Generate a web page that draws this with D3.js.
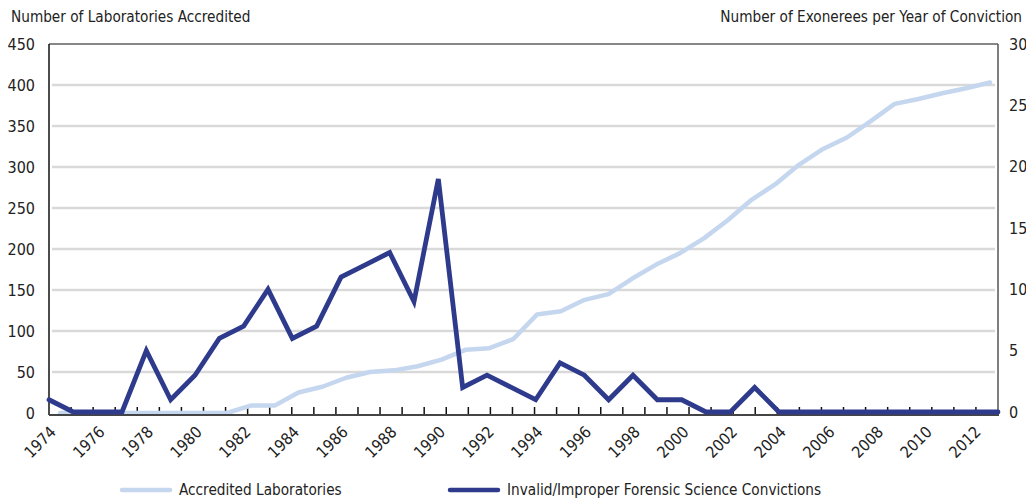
<!DOCTYPE html>
<html>
<head>
<meta charset="utf-8">
<script src="https://cdn.jsdelivr.net/npm/d3@7"></script>
<style>
  body { margin: 0; background: #fff; }
  text { font-family: "Liberation Sans Narrow", "DejaVu Sans Condensed", sans-serif; fill: #222; }
</style>
</head>
<body>
<script>
// years on the x axis
var years = [1974, 1975, 1976, 1977, 1978, 1979, 1980, 1981, 1982, 1983,
             1984, 1985, 1986, 1987, 1988, 1989, 1990, 1991, 1992, 1993,
             1994, 1995, 1996, 1997, 1998, 1999, 2000, 2001, 2002, 2003,
             2004, 2005, 2006, 2007, 2008, 2009, 2010, 2011, 2012, 2013];

// accredited laboratories (left axis)
var labs = [0, 0, 0, 0, 0, 0, 0, 0, 9, 9,
            25, 32, 43, 50, 52, 57, 65, 77, 79, 90,
            120, 124, 138, 145, 164, 181, 195, 213, 235, 260,
            279, 303, 322, 336, 356, 377, 383, 390, 396, 403];

// invalid / improper forensic science convictions (right axis)
var convictions = [1, 0, 0, 0, 5, 1, 3, 6, 7, 10,
                   6, 7, 11, 12, 13, 9, 19, 2, 3, 2,
                   1, 4, 3, 1, 3, 1, 1, 0, 0, 2,
                   0, 0, 0, 0, 0, 0, 0, 0, 0, 0];

var leftTicks = [0, 50, 100, 150, 200, 250, 300, 350, 400, 450];
var rightTicks = [0, 5, 10, 15, 20, 25, 30];
var yearLabels = [1974, 1976, 1978, 1980, 1982, 1984, 1986, 1988, 1990, 1992,
                  1994, 1996, 1998, 2000, 2002, 2004, 2006, 2008, 2010, 2012];

var W = 1026, H = 502;
var plot = { l: 49, r: 998, t: 44, b: 415 };
var lightColor = "#c5d6ef", darkColor = "#2e3a8b";

var svg = d3.select("body").append("svg")
    .attr("width", W)
    .attr("height", H);

// scales
var xDark = d3.scaleLinear().domain([1974, 2013]).range([plot.l, plot.r]);
var xLight = d3.scaleLinear().domain([1974, 2013]).range([60, 990]);
var yLeft = d3.scaleLinear().domain([0, 450]).range([413, plot.t]);
var yRight = d3.scaleLinear().domain([0, 30]).range([412, plot.t]);
var xTick = d3.scaleLinear().domain([0, 43]).range([plot.l, plot.r]);

// gridlines
svg.append("g").selectAll("line")
    .data(leftTicks.filter(function(d) { return d > 0 && d < 450; }))
    .enter().append("line")
    .attr("x1", plot.l + 3).attr("x2", plot.r - 3)
    .attr("y1", function(d) { return yLeft(d); })
    .attr("y2", function(d) { return yLeft(d); })
    .attr("stroke", "#d9d9d9")
    .attr("stroke-width", 2.5);

// frame
svg.append("line").attr("x1", plot.l).attr("x2", plot.r).attr("y1", plot.t).attr("y2", plot.t)
    .attr("stroke", "#111").attr("stroke-width", 1.2);
svg.append("line").attr("x1", plot.l).attr("x2", plot.l).attr("y1", plot.t).attr("y2", plot.b)
    .attr("stroke", "#111").attr("stroke-width", 1.5);
svg.append("line").attr("x1", plot.r).attr("x2", plot.r).attr("y1", plot.t).attr("y2", plot.b)
    .attr("stroke", "#555").attr("stroke-width", 1.5);

// small ticks along the bottom
svg.append("g").selectAll("line")
    .data(d3.range(1, 43))
    .enter().append("line")
    .attr("x1", function(d) { return xTick(d); })
    .attr("x2", function(d) { return xTick(d); })
    .attr("y1", plot.b - 8).attr("y2", plot.b)
    .attr("stroke", "#111").attr("stroke-width", 1.5);

// left axis labels
svg.append("g").selectAll("text")
    .data(leftTicks)
    .enter().append("text")
    .attr("x", 35)
    .attr("y", function(d) { return yLeft(d); })
    .attr("dy", "0.36em")
    .attr("text-anchor", "end")
    .attr("font-size", "16px")
    .text(function(d) { return d; });

// right axis labels
svg.append("g").selectAll("text")
    .data(rightTicks)
    .enter().append("text")
    .attr("x", 1009)
    .attr("y", function(d) { return yRight(d); })
    .attr("dy", "0.36em")
    .attr("font-size", "16px")
    .text(function(d) { return d; });

// year labels
svg.append("g").selectAll("text")
    .data(yearLabels)
    .enter().append("text")
    .attr("text-anchor", "end")
    .attr("font-size", "16px")
    .attr("transform", function(d) {
        return "translate(" + (xDark(d) + 8) + "," + 433 + ") rotate(-45)";
    })
    .text(function(d) { return d; });

// lines
var lightLine = d3.line()
    .x(function(d, i) { return xLight(years[i]); })
    .y(function(d) { return yLeft(d); });
var darkLine = d3.line()
    .x(function(d, i) { return xDark(years[i]); })
    .y(function(d) { return yRight(d); });

svg.append("path")
    .attr("d", lightLine(labs))
    .attr("fill", "none")
    .attr("stroke", lightColor)
    .attr("stroke-width", 4.5)
    .attr("stroke-linejoin", "round")
    .attr("stroke-linecap", "round");

// bottom axis line
svg.append("line").attr("x1", plot.l).attr("x2", plot.r + 1).attr("y1", plot.b).attr("y2", plot.b)
    .attr("stroke", "#444").attr("stroke-width", 2);

svg.append("path")
    .attr("d", darkLine(convictions))
    .attr("fill", "none")
    .attr("stroke", darkColor)
    .attr("stroke-width", 4.8)
    .attr("stroke-linejoin", "miter")
    .attr("stroke-linecap", "round");

// axis titles
svg.append("text")
    .attr("x", 11).attr("y", 22)
    .attr("font-size", "15.2px")
    .text("Number of Laboratories Accredited");
svg.append("text")
    .attr("x", 1022).attr("y", 22)
    .attr("text-anchor", "end")
    .attr("font-size", "15.2px")
    .text("Number of Exonerees per Year of Conviction");

// legend
var legend = [
    { label: "Accredited Laboratories", color: lightColor, x: 122 },
    { label: "Invalid/Improper Forensic Science Convictions", color: darkColor, x: 450 }
];
var lg = svg.append("g").selectAll("g")
    .data(legend)
    .enter().append("g");
lg.append("line")
    .attr("x1", function(d) { return d.x; })
    .attr("x2", function(d) { return d.x + 48; })
    .attr("y1", 490).attr("y2", 490)
    .attr("stroke", function(d) { return d.color; })
    .attr("stroke-width", 4.5)
    .attr("stroke-linecap", "round");
lg.append("text")
    .attr("x", function(d) { return d.x + 57; })
    .attr("y", 490)
    .attr("dy", "0.36em")
    .attr("font-size", "15.2px")
    .text(function(d) { return d.label; });
</script>
</body>
</html>
